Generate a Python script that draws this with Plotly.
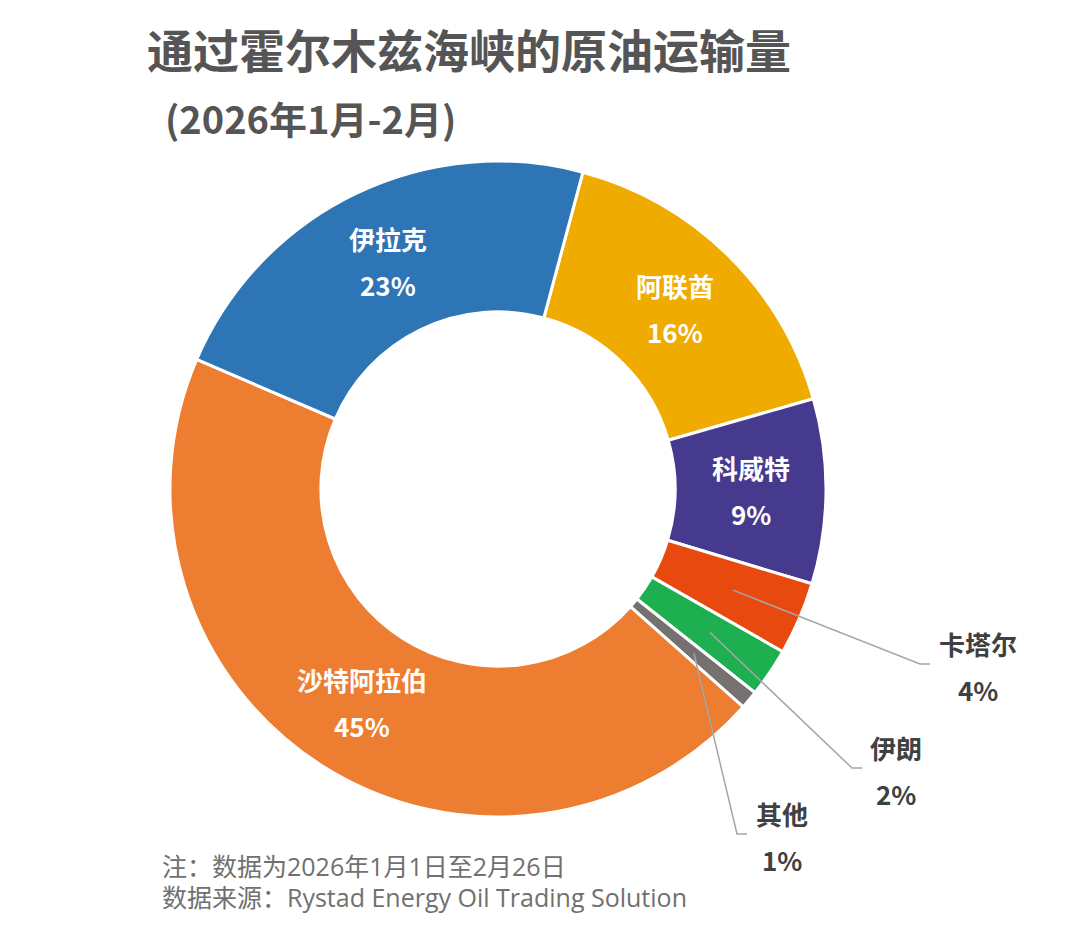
import math
import plotly.graph_objects as go

# --- data ---
countries = ["阿联酋", "科威特", "卡塔尔", "伊朗", "其他", "沙特阿拉伯", "伊拉克"]
shares = [16.4, 9.1, 3.6, 2.4, 0.9, 44.9, 22.7]
pct_labels = ["16%", "9%", "4%", "2%", "1%", "45%", "23%"]
colors = ["#F0AB00", "#463A8E", "#E8490F", "#1DAF50", "#767171", "#ED7D31", "#2E75B6"]
inside = [True, True, False, False, False, True, True]

TITLE = "通过霍尔木兹海峡的原油运输量"
SUBTITLE = "(2026年1月-2月)"
NOTE_1 = "注：数据为2026年1月1日至2月26日"
NOTE_2 = "数据来源：Rystad Energy Oil Trading Solution"

# --- geometry (pixels, page coordinates) ---
W, H = 1080, 934
BODY = 8  # default page margin around the plot div
CX, CY, R = 498, 489, 328
HOLE = 0.54
ROTATION = 15
FONT = "Noto Sans CJK SC, Noto Sans, sans-serif"
NOTE_FONT = "Open Sans, Noto Sans CJK SC, sans-serif"


def px(x):
    return (x - BODY) / W


def py(y):
    return 1 - (y - BODY) / H


def mid_angles():
    total = sum(shares)
    out, start = [], ROTATION
    for v in shares:
        span = v / total * 360
        out.append(math.radians(start + span / 2))
        start += span
    return out


def polar(a, r):
    return CX + r * math.sin(a), CY - r * math.cos(a)


def label(x, y, text, size, color, anchor="center", family=FONT):
    return dict(
        x=px(x), y=py(y), xref="paper", yref="paper",
        xanchor=anchor, yanchor="middle",
        text=text, showarrow=False,
        font=dict(family=family, size=size, color=color),
    )


fig = go.Figure(go.Pie(
    labels=countries,
    values=shares,
    sort=False,
    direction="clockwise",
    rotation=ROTATION,
    hole=HOLE,
    marker=dict(colors=colors, line=dict(color="white", width=3)),
    textinfo="none",
    hoverinfo="label+percent",
    showlegend=False,
    domain=dict(x=[px(CX - R), px(CX + R)], y=[py(CY + R), py(CY - R)]),
))

annotations = []
shapes = []
angles = mid_angles()
r_mid = R * (1 + HOLE) / 2

# labels sitting inside the ring
for name, pct, a, ins in zip(countries, pct_labels, angles, inside):
    if not ins:
        continue
    x, y = polar(a, r_mid)
    annotations.append(label(x, y - 23, f"<b>{name}</b>", 26, "white"))
    annotations.append(label(x, y + 23, f"<b>{pct}</b>", 26, "white"))

# small slices: labels outside with leader lines
outside_pos = {
    "卡塔尔": dict(label=(978, 643), kink=(920, 664), end=(930, 664)),
    "伊朗": dict(label=(896, 747), kink=(852, 768), end=(862, 768)),
    "其他": dict(label=(782, 813), kink=(737, 834), end=(747, 834)),
}
for name, pct, a, ins in zip(countries, pct_labels, angles, inside):
    if ins:
        continue
    p = outside_pos[name]
    sx, sy = polar(a, R * 0.78)
    (kx, ky), (ex, ey) = p["kink"], p["end"]
    shapes.append(dict(
        type="path", xref="paper", yref="paper",
        path=f"M {px(sx)} {py(sy)} L {px(kx)} {py(ky)} L {px(ex)} {py(ey)}",
        line=dict(color="#A6A6A6", width=1.5),
    ))
    lx, ly = p["label"]
    annotations.append(label(lx, ly, f"<b>{name}</b>", 26, "#404040"))
    annotations.append(label(lx, ly + 46, f"<b>{pct}</b>", 26, "#404040"))

# title, subtitle, notes
annotations += [
    label(145, 48, f"<b>{TITLE}</b>", 46, "#555555", "left"),
    label(163, 117, f"<b>{SUBTITLE}</b>", 38, "#555555", "left"),
    label(160, 866, NOTE_1, 25, "#707070", "left", NOTE_FONT),
    label(160, 897, NOTE_2, 25, "#707070", "left", NOTE_FONT),
]

fig.update_layout(
    width=W, height=H,
    margin=dict(l=0, r=0, t=0, b=0),
    paper_bgcolor="white",
    plot_bgcolor="white",
    annotations=annotations,
    shapes=shapes,
)

fig.write_html("out.html")
